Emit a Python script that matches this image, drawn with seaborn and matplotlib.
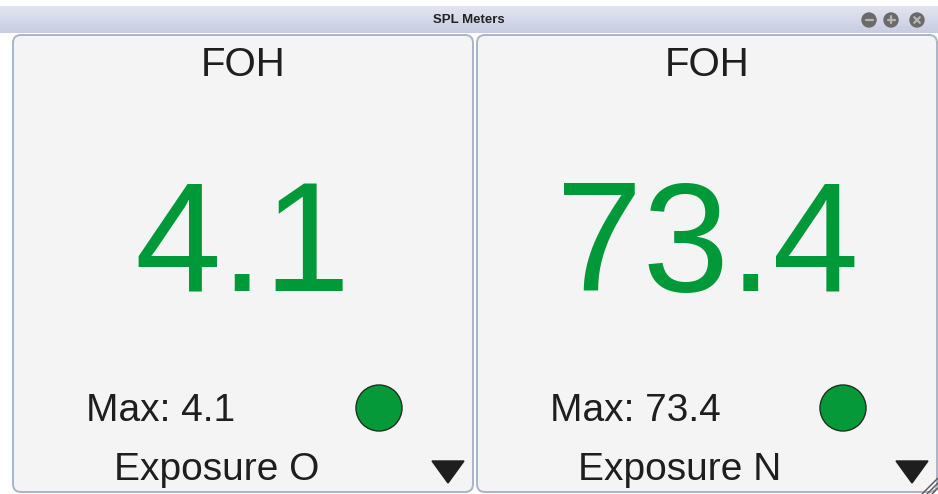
import numpy as np
import pandas as pd
import matplotlib.pyplot as plt
import seaborn as sns
from matplotlib.patches import FancyBboxPatch, Polygon, Circle


# =========================================================
# 0. Data
# =========================================================

window_title = "SPL Meters"
meter_names = ["FOH", "FOH"]
spl_levels = [4.1, 73.4]
max_levels = [4.1, 73.4]
exposure_labels = ["Exposure O", "Exposure N"]
meter_status = ["ok", "ok"]

STATUS_COLORS = {"ok": "#05993a"}
LEVEL_COLOR = "#00993a"
TEXT_COLOR = "#1e1e1e"
PANEL_FACE = "#f4f4f4"
PANEL_EDGE = "#a9b4c9"

# layout in pixels (figure is 938 x 494)
W, H = 938, 494
PANEL_LEFT = [13, 477]
PANEL_WIDTH = 460
PANEL_TOP = 35


# =========================================================
# 1. Figure setup
# =========================================================

sns.set_theme(style="white")
plt.rcParams["font.family"] = ["Liberation Sans", "DejaVu Sans"]

fig = plt.figure(figsize=(W / 100, H / 100), dpi=100)
fig.patch.set_facecolor("white")
ax = fig.add_axes([0, 0, 1, 1])
ax.set_xlim(0, W)
ax.set_ylim(H, 0)
ax.axis("off")

# title bar gradient
top_col = np.array([0.89, 0.90, 0.94])
bot_col = np.array([0.78, 0.80, 0.88])
t = np.linspace(0, 1, 40)[:, None, None]
grad = top_col * (1 - t) + bot_col * t
ax.imshow(grad, extent=(0, W, 33, 6), aspect="auto", origin="upper", zorder=0)
ax.text(W / 2, 20, window_title, ha="center", va="center",
        fontsize=9.5, fontweight="bold", color="#222222", zorder=3)

# window buttons
for bx, glyph in zip([869, 891, 917], ["-", "+", "x"]):
    ax.add_patch(Circle((bx, 20), 7, color="#6a6a6a", zorder=3))
    g = 3.5
    if glyph == "-":
        ax.plot([bx - g, bx + g], [20, 20], color="#b5b5b5", lw=1.6, zorder=4)
    elif glyph == "+":
        ax.plot([bx - g, bx + g], [20, 20], color="#b5b5b5", lw=1.6, zorder=4)
        ax.plot([bx, bx], [20 - g, 20 + g], color="#b5b5b5", lw=1.6, zorder=4)
    else:
        g = 2.8
        ax.plot([bx - g, bx + g], [20 - g, 20 + g], color="#b5b5b5", lw=1.6, zorder=4)
        ax.plot([bx - g, bx + g], [20 + g, 20 - g], color="#b5b5b5", lw=1.6, zorder=4)


# =========================================================
# 2. Meter panels
# =========================================================

for i, x0 in enumerate(PANEL_LEFT):
    cx = x0 + PANEL_WIDTH / 2
    ax.add_patch(FancyBboxPatch(
        (x0, PANEL_TOP), PANEL_WIDTH, 457,
        boxstyle="round,pad=0,rounding_size=8",
        facecolor=PANEL_FACE, edgecolor=PANEL_EDGE, lw=1.4, zorder=1
    ))

    ax.text(cx, 76, meter_names[i], ha="center", va="baseline",
            fontsize=29, color=TEXT_COLOR, zorder=3)
    ax.text(cx, 291, f"{spl_levels[i]:.1f}", ha="center", va="baseline",
            fontsize=112, color=LEVEL_COLOR, zorder=3)
    ax.text(x0 + 73, 421, f"Max: {max_levels[i]:.1f}", ha="left", va="baseline",
            fontsize=28, color=TEXT_COLOR, zorder=3)
    ax.text(x0 + 101, 480, exposure_labels[i], ha="left", va="baseline",
            fontsize=28, color=TEXT_COLOR, zorder=3)

    # dropdown arrow
    tx = x0 + 435
    ax.add_patch(Polygon([[tx - 16, 461], [tx + 16, 461], [tx, 483]],
                         closed=True, color="#1e1e1e", zorder=3))

# status indicators
ind = pd.DataFrame({
    "x": [x0 + 366 for x0 in PANEL_LEFT],
    "y": [408] * len(PANEL_LEFT),
    "status": meter_status,
})
sns.scatterplot(data=ind, x="x", y="y", hue="status", palette=STATUS_COLORS,
                s=1100, edgecolor="#1d3322", linewidth=1.0, legend=False,
                ax=ax, zorder=4)
ax.set_xlim(0, W)
ax.set_ylim(H, 0)
ax.axis("off")

# resize grip
for k in [6, 11, 16]:
    ax.plot([W - k, W], [H, H - k], color="#555555", lw=1.0, zorder=5)

fig.savefig("out.png", dpi=100)
